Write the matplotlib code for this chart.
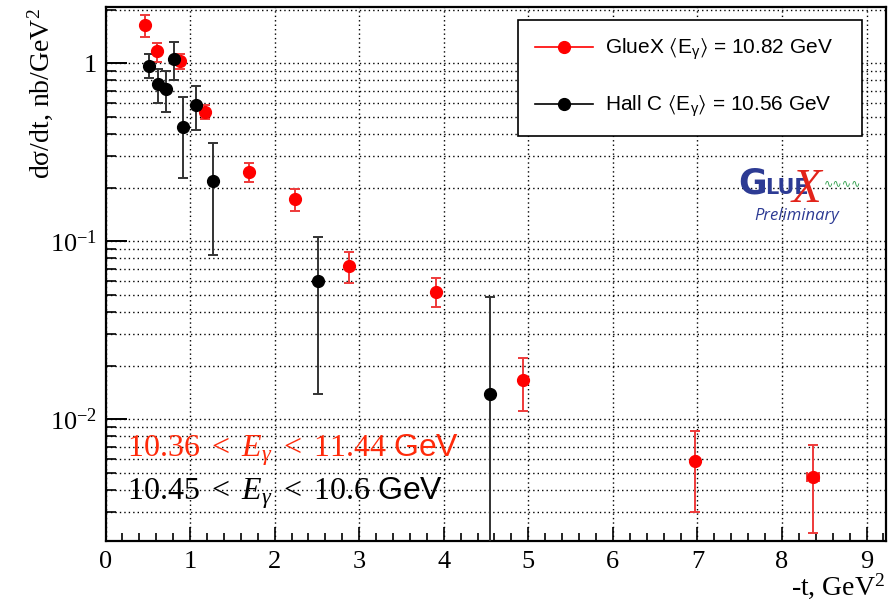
import matplotlib
matplotlib.use("Agg")
import matplotlib.pyplot as plt
import numpy as np
from matplotlib.ticker import FixedLocator, FixedFormatter, LogLocator, NullFormatter, MultipleLocator
from matplotlib.lines import Line2D

plt.rcParams['mathtext.fontset'] = 'custom'
plt.rcParams['mathtext.rm'] = 'Liberation Serif'
plt.rcParams['mathtext.it'] = 'Liberation Serif:italic'
plt.rcParams['mathtext.bf'] = 'Liberation Serif:bold'
plt.rcParams['mathtext.sf'] = 'Liberation Sans'
plt.rcParams['mathtext.fallback'] = 'stix'

# GlueX data
gx_t = [0.467, 0.612, 0.884, 1.18, 1.696, 2.244, 2.878, 3.905, 4.94, 6.976, 8.367]
gx_val = [1.635, 1.168, 1.03, 0.535, 0.244, 0.172, 0.0726, 0.0517, 0.01656, 0.00583, 0.00474]
gx_up = [1.868, 1.30, 1.12, 0.583, 0.275, 0.197, 0.0871, 0.062, 0.0220, 0.00857, 0.00721]
gx_lo = [1.40, 1.017, 0.934, 0.485, 0.214, 0.148, 0.0586, 0.0426, 0.0111, 0.00301, 0.0023]
gx_terr = [0, 0, 0, 0, 0, 0, 0, 0, 0, 0, 0.075]

# Hall C data
hc_t = [0.514, 0.617, 0.715, 0.813, 0.912, 1.066, 1.271, 2.51, 4.545]
hc_val = [0.97, 0.769, 0.717, 1.063, 0.437, 0.583, 0.219, 0.0598, 0.01393]
hc_up = [1.12, 0.934, 0.902, 1.317, 0.647, 0.746, 0.357, 0.1057, 0.0484]
hc_lo = [0.823, 0.601, 0.531, 0.80, 0.227, 0.42, 0.0834, 0.01393, 0.0005]

x_ticks = [0, 1, 2, 3, 4, 5, 6, 7, 8, 9]
y_ticks = [0.01, 0.1, 1]
y_ticklabels = [r'$10^{-2}$', r'$10^{-1}$', '1']

fig = plt.figure(figsize=(8.89, 6.07), dpi=100)
ax = fig.add_axes([105.5/889, 1-541/607, 780.5/889, 534/607])

ax.set_yscale('log')
ax.set_xlim(0, 9.23)
ax.set_ylim(0.00207, 2.07)

# grid
ax.yaxis.grid(True, which='both', linestyle=(0, (1, 2.2)), color='black', linewidth=1.0)
ax.xaxis.grid(True, which='major', linestyle=(0, (1, 2.2)), color='black', linewidth=1.0)
ax.set_axisbelow(True)

gv = np.array(gx_val); hv = np.array(hc_val)
ax.errorbar(gx_t, gx_val, yerr=[gv - np.array(gx_lo), np.array(gx_up) - gv], xerr=gx_terr,
            fmt='o', color='#ff0000', ecolor='#ee3a3a', elinewidth=1.4, capsize=3.5, capthick=1.4,
            markersize=8.5, zorder=4)
ax.errorbar(hc_t, hc_val, yerr=[hv - np.array(hc_lo), np.array(hc_up) - hv],
            fmt='o', color='black', ecolor='#333333', elinewidth=1.4, capsize=3.5, capthick=1.4,
            markersize=8.5, zorder=4)

# ticks
ax.xaxis.set_major_locator(FixedLocator(x_ticks))
ax.xaxis.set_minor_locator(MultipleLocator(0.2))
ax.yaxis.set_major_locator(FixedLocator(y_ticks))
ax.yaxis.set_major_formatter(FixedFormatter(y_ticklabels))
ax.yaxis.set_minor_locator(LogLocator(base=10, subs=np.arange(2, 10)))
ax.yaxis.set_minor_formatter(NullFormatter())
ax.tick_params(axis='x', which='major', direction='in', length=10, width=1.2, labelsize=19, pad=7)
ax.tick_params(axis='x', which='minor', direction='in', length=5.5, width=1.2)
ax.tick_params(axis='y', which='major', direction='in', length=15, width=1.4, labelsize=19, pad=6)
ax.tick_params(axis='y', which='minor', direction='in', length=7, width=1.2)
for lab in ax.get_xticklabels() + ax.get_yticklabels():
    lab.set_family('Liberation Serif')
for s in ax.spines.values():
    s.set_linewidth(1.6)

# axis titles
fig.text(40/889, 1-8/607, 'd\u03c3/dt, nb/GeV$^2$', rotation=90, ha='center', va='top',
         fontsize=20, family='Liberation Serif')
fig.text(885/889, 1-595/607, '-t, GeV$^2$', ha='right', va='baseline',
         fontsize=20, family='Liberation Serif')

# legend
handles = [Line2D([], [], color='#ff0000', marker='o', markersize=8.5, linewidth=1.2),
           Line2D([], [], color='black', marker='o', markersize=8.5, linewidth=1.2)]
labels = [r'GlueX $\langle\mathsf{E}_{\mathsf{\gamma}}\rangle$ = 10.82 GeV',
          r'Hall C $\langle\mathsf{E}_{\mathsf{\gamma}}\rangle$ = 10.56 GeV']
leg = ax.legend(handles, labels, loc='upper left',
                bbox_to_anchor=(0.5285, 0.7575, 0.4405, 0.218), mode='expand',
                prop={'family': 'Liberation Sans', 'size': 15}, frameon=True, fancybox=False,
                edgecolor='black', framealpha=1, borderpad=0.8, labelspacing=1.55,
                handlelength=2.8, handletextpad=0.6, borderaxespad=0)
leg.get_frame().set_linewidth(1.2)

# energy range annotations
ax.text(0.027, 0.159, r'$10.36\ <\ E_{\gamma}\ <\ 11.44\ \mathsf{GeV}$', transform=ax.transAxes,
        color='#ff2a0a', fontsize=23, ha='left', va='baseline')
ax.text(0.027, 0.0768, r'$10.45\ <\ E_{\gamma}\ <\ 10.6\ \mathsf{GeV}$', transform=ax.transAxes,
        color='black', fontsize=23, ha='left', va='baseline')

# GlueX logo
blue = '#2d3b94'
fig.text(738/889, 1-194/607, 'G', color=blue, fontsize=25, fontweight='bold', family='DejaVu Sans', va='baseline')
fig.text(765/889, 1-194/607, 'LUE', color=blue, fontsize=15, fontweight='bold', family='DejaVu Sans', va='baseline')
fig.text(792/889, 1-202/607, 'X', color='#e2231a', fontsize=35, style='italic', family='Liberation Serif', va='baseline')
fig.text(824/889, 1-186/607, '\u223f\u223f\u223f\u223f', color='#2e9e4a', fontsize=8, family='DejaVu Sans', va='baseline')
fig.text(797/889, 1-216/607, 'Preliminary', color=blue, fontsize=12, style='italic', family='Open Sans',
         ha='center', va='center')

fig.savefig('out.png', dpi=100)
